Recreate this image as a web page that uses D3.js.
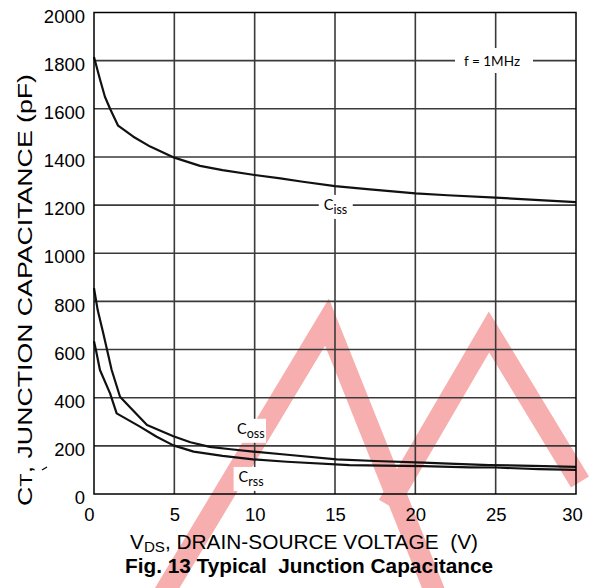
<!DOCTYPE html>
<html>
<head>
<meta charset="utf-8">
<script src="https://cdn.jsdelivr.net/npm/d3@7"></script>
<style>
  body { margin: 0; background: #fff; }
  svg { display: block; }
  .tick text { font-family: "Liberation Sans", Arial, sans-serif; fill: #000; }
</style>
</head>
<body>
<svg id="chart" width="596" height="588"></svg>
<script>
// curve data: [V_DS (V), capacitance (pF)]
const ciss = [[0,1815],[0.37,1723],[0.68,1650],[1,1600],[1.5,1530],[2.45,1484],[3.5,1443],[5,1397],
  [6.6,1363],[8,1345],[10,1325],[11.6,1311],[13,1297],[15,1279],[17,1266],[20,1249],[22,1241],
  [25,1231],[28,1220],[30,1212]];
const coss = [[0,855],[0.23,764],[0.58,667],[1.1,515],[1.62,404],[2.24,360],[3.3,287],[4.94,240],
  [6,215],[7.2,196],[8.5,186],[9.9,176],[12.2,162],[15.1,144],[17.5,137],[20.5,130],[22.5,125],
  [24.6,120],[27.3,117],[30,113]];
const crss = [[0,635],[0.12,598],[0.37,515],[1,418],[1.41,335],[2.86,280],[3.9,238],[4.94,202],
  [6.2,176],[8,158],[9.9,144],[12,134],[15.9,120],[18,118],[20.5,116],[23.4,111],[25,110],
  [27.7,103],[30,100]];

const xTicks = [0, 5, 10, 15, 20, 25, 30];
const yTicks = [0, 200, 400, 600, 800, 1000, 1200, 1400, 1600, 1800, 2000];

// curve labels: [main, subscript, V_DS, pF]
const curveLabels = [['C', 'iss', 14.3, 1180], ['C', 'oss', 8.9, 250], ['C', 'rss', 9.0, 50]];

const svg = d3.select('#chart');
const plotL = 94, plotR = 576, plotT = 12.5, plotB = 494;

let x = d3.scaleLinear().domain([0, 30]).range([plotL, plotR]);
let y = d3.scaleLinear().domain([0, 2000]).range([plotB, plotT]);

svg.append('rect').attr('width', 596).attr('height', 588).attr('fill', '#fff');

//Pink watermark strokes behind everything.
let wm = svg.append('g').attr('fill', 'none').attr('stroke', '#f7aeae').attr('stroke-width', 21);
wm.append('path').attr('d', 'M160,600 L327,322 L438,600');
wm.append('path').attr('d', 'M388,505 L489,332 L580,482');

//Grid lines.
svg.append('g').selectAll('line').data(xTicks.slice(1, -1)).join('line')
  .attr('x1', d => x(d)).attr('x2', d => x(d)).attr('y1', plotT).attr('y2', plotB)
  .attr('stroke', '#3a3a3a').attr('stroke-width', 1.6);
svg.append('g').selectAll('line').data(yTicks.slice(1, -1)).join('line')
  .attr('y1', d => y(d)).attr('y2', d => y(d)).attr('x1', plotL).attr('x2', plotR)
  .attr('stroke', '#3a3a3a').attr('stroke-width', 1.6);

//White boxes that break the grid for the labels.
svg.append('rect').attr('x', 455).attr('y', 48).attr('width', 78).attr('height', 25).attr('fill', '#fff');
svg.append('text').attr('x', 464).attr('y', 66).text('f = 1MHz')
  .style('font-family', 'Lato, sans-serif').style('font-size', '14px')
  .attr('textLength', 56).attr('lengthAdjust', 'spacingAndGlyphs');

curveLabels.forEach(l => {
  let px = x(l[2]), py = y(l[3]);
  svg.append('rect').attr('x', px - 5).attr('y', py - 15).attr('width', 34).attr('height', 24).attr('fill', '#fff');
  let t = svg.append('text').attr('x', px).attr('y', py)
    .style('font-family', 'Lato, sans-serif').style('font-size', '14.5px');
  t.append('tspan').text(l[0]);
  t.append('tspan').attr('dy', 4.5).style('font-size', '12.5px').text(l[1]);
});

//Capacitance curves.
let lineFn = d3.line().x(d => x(d[0])).y(d => y(d[1])).curve(d3.curveLinear);
svg.append('g').selectAll('path').data([ciss, coss, crss]).join('path')
  .attr('d', lineFn).attr('fill', 'none').attr('stroke', '#111').attr('stroke-width', 2.2)
  .attr('stroke-linejoin', 'round');

//Plot frame.
svg.append('rect').attr('x', plotL).attr('y', plotT).attr('width', plotR - plotL).attr('height', plotB - plotT)
  .attr('fill', 'none').attr('stroke', '#000').attr('stroke-width', 1.5);

//Axes, only the tick labels are visible.
let xAxis = d3.axisBottom(x).tickValues(xTicks).tickSize(0).tickPadding(14).tickFormat(d3.format('d'));
svg.append('g').attr('transform', 'translate(0,' + plotB + ')').call(xAxis)
  .call(g => g.select('.domain').remove())
  .selectAll('text').style('font-size', '18.5px').attr('dx', d => d == 0 ? -5 : d == 30 ? -4 : 0);

let yAxis = d3.axisLeft(y).tickValues(yTicks).tickSize(0).tickPadding(9).tickFormat(d3.format('d'));
svg.append('g').attr('transform', 'translate(' + plotL + ',0)').call(yAxis)
  .call(g => g.select('.domain').remove())
  .selectAll('text').style('font-size', '18.5px').attr('dy', '0.52em');

//Axis titles.
let yTitle = svg.append('text').attr('transform', 'translate(32,290)rotate(-90)')
  .attr('text-anchor', 'middle').style('font-family', '"Liberation Sans", Arial, sans-serif')
  .style('font-size', '19.5px').attr('textLength', 432).attr('lengthAdjust', 'spacingAndGlyphs');
yTitle.append('tspan').text('C');
yTitle.append('tspan').style('font-size', '16px').text('T');
yTitle.append('tspan').text(', JUNCTION CAPACITANCE (pF)');

let xTitle = svg.append('text').attr('x', 130).attr('y', 549)
  .style('font-family', '"Liberation Sans", Arial, sans-serif').style('font-size', '20px')
  .style('white-space', 'pre').attr('textLength', 348).attr('lengthAdjust', 'spacingAndGlyphs');
xTitle.append('tspan').text('V');
xTitle.append('tspan').attr('dy', 2.5).style('font-size', '14.5px').text('DS');
xTitle.append('tspan').attr('dy', -2.5).text(', DRAIN-SOURCE VOLTAGE  (V)');

svg.append('text').attr('x', 125).attr('y', 573)
  .style('font-family', '"Liberation Sans", Arial, sans-serif').style('font-size', '20px')
  .style('font-weight', 'bold').style('white-space', 'pre')
  .attr('textLength', 368).attr('lengthAdjust', 'spacingAndGlyphs')
  .text('Fig. 13 Typical  Junction Capacitance');

//Small stray mark left of the axis.
svg.append('path').attr('d', 'M42,470 L47,467').attr('stroke', '#000').attr('stroke-width', 1.2);
</script>
</body>
</html>
